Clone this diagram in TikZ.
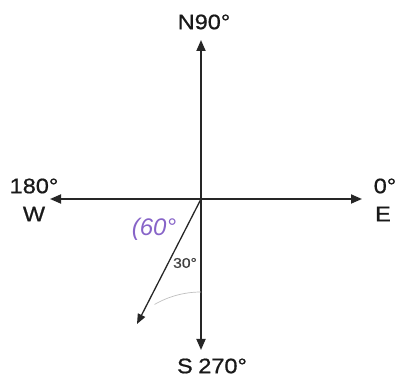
\documentclass[tikz,border=0pt]{standalone}
\usepackage{fontspec}
\setmainfont{Liberation Sans}
\newfontfamily\widefont[FakeStretch=1.12,FakeBold=0.8]{Liberation Sans}
\usetikzlibrary{arrows.meta}
\definecolor{hand}{RGB}{135,100,200}
\begin{document}
\begin{tikzpicture}[x=1pt,y=-1pt,
  axis/.style={line width=1.8pt,draw=black!85,-{Triangle[length=11pt,width=9pt]}},
  lbl/.style={font=\widefont\fontsize{21}{22}\selectfont,inner sep=0pt,text=black!90},
  small/.style={font=\widefont\fontsize{14}{15}\selectfont,inner sep=0pt,text=black!75}]
\useasboundingbox (0,0) rectangle (399,379);
\coordinate (O) at (201,199);
\coordinate (N) at (201,40);
\coordinate (S) at (201,350);
\coordinate (W) at (50,199);
\coordinate (E) at (362,199);
\coordinate (D) at (137,324);
\draw[axis] (O) -- (N);
\draw[axis] (O) -- (S);
\draw[axis] (O) -- (W);
\draw[axis] (O) -- (E);
\draw[line width=1.3pt,draw=black!85,-{Triangle[length=10pt,width=8pt]}] (O) -- (D);
\draw[black!25,line width=0.7pt] (201,292) arc[start angle=270,end angle=240,radius=93];
\node[lbl] (nl) at (204,22) {N90°};
\node[lbl] (sl) at (212,366) {S\kern-1pt\ 270°};
\node[lbl] (wl1) at (34,186) {180°};
\node[lbl] (wl2) at (34,214) {W};
\node[lbl] (el1) at (385,186) {0°};
\node[lbl] (el2) at (383,214) {E};
\node[small] (ang) at (185,263) {30°};
\node[font=\fontsize{24}{26}\selectfont\itshape,text=hand,inner sep=0pt] (hw) at (154,229) {(60°};
\end{tikzpicture}
\end{document}
